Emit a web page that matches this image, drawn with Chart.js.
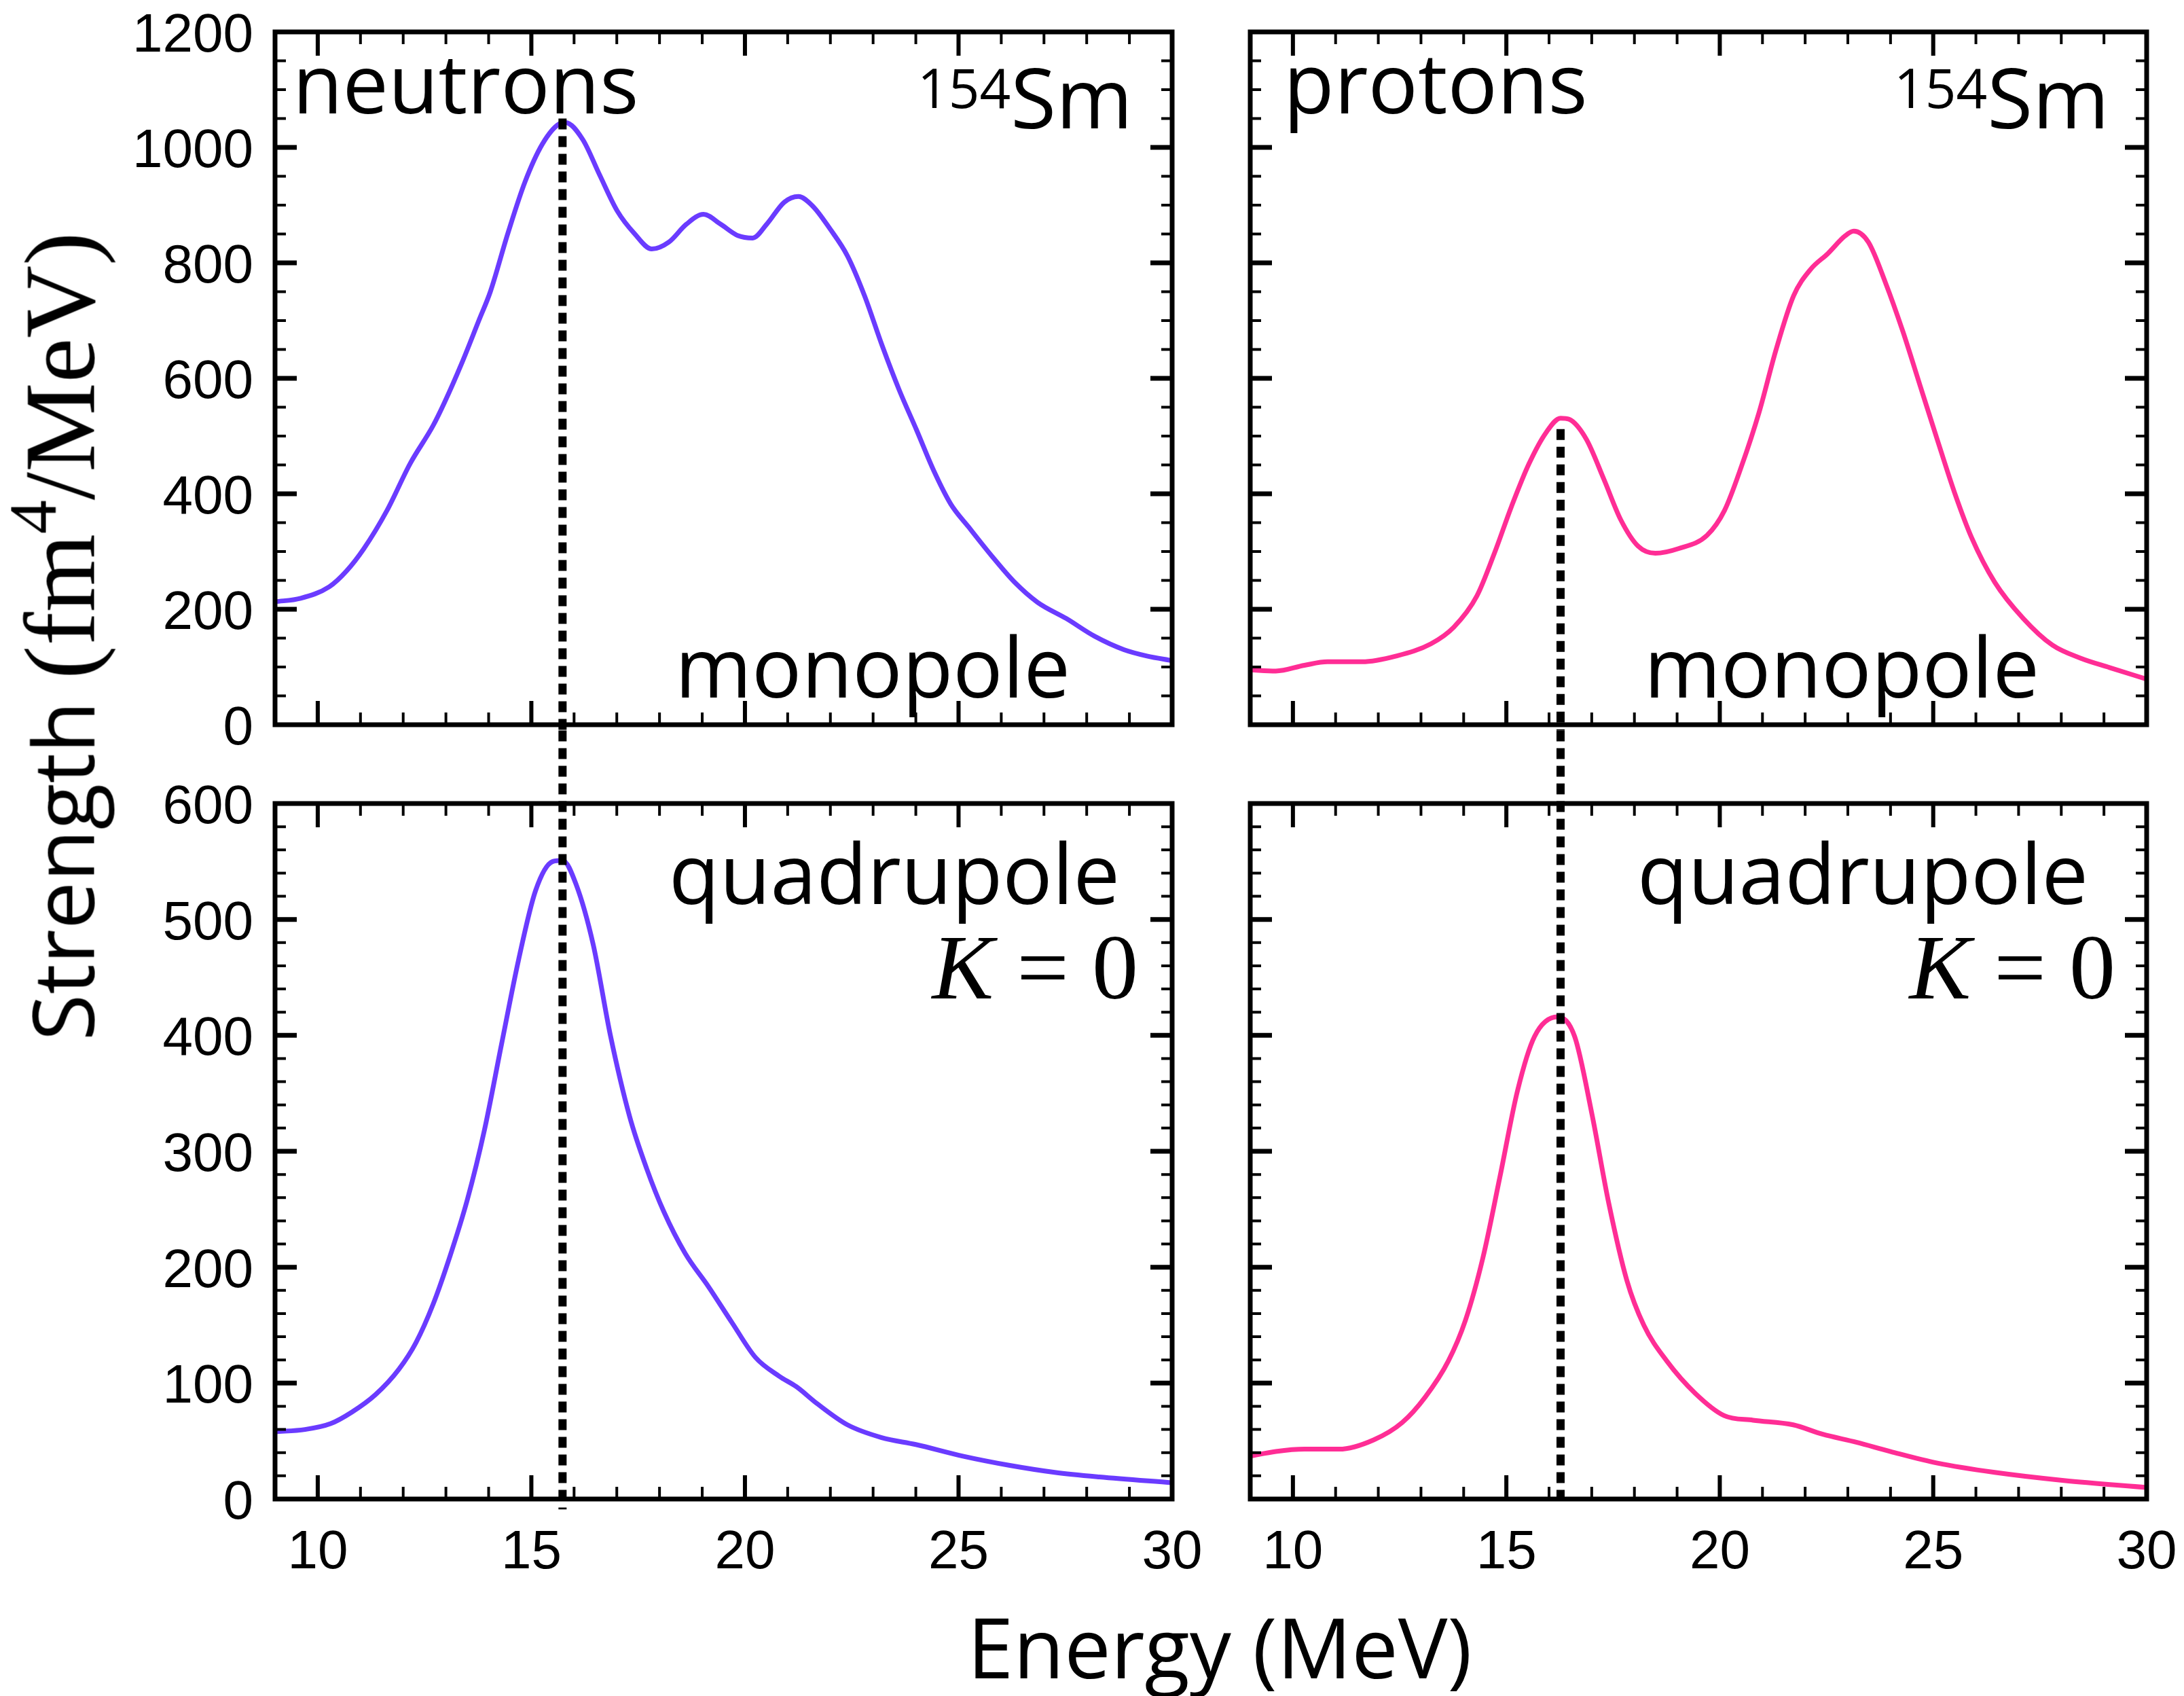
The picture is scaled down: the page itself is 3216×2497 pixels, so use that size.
<!DOCTYPE html>
<html lang="en">
<head>
<meta charset="UTF-8">
<title>154Sm strength</title>
<script src="https://cdn.jsdelivr.net/npm/chart.js"></script>
<style>
  body { margin: 0; background: #fff; width: 3216px; height: 2497px; position: relative; overflow: hidden; }
  canvas { position: absolute; }
  #tituloY {
    position: absolute; left: 97px; top: 937px;
    transform: translate(-50%, -50%) rotate(-90deg);
    white-space: nowrap; font-family: "Open Sans", "Noto Sans", sans-serif;
    font-size: 125px; line-height: 125px; color: #000;
  }
  #tituloY .serif { font-family: "Liberation Serif", "DejaVu Serif", serif; font-size: 148px; }
  #tituloY .exp { font-size: 100px; position: relative; top: -57px; }
  #tituloX {
    position: absolute; left: 1196px; top: 2363px; width: 1200px; text-align: center;
    font-family: "Open Sans", "Noto Sans", sans-serif; font-size: 122px; line-height: 1; color: #000;
  }
</style>
</head>
<body>

<canvas id="cTL" width="1790" height="1100" style="left:0;top:0"></canvas>
<canvas id="cTR" width="1456" height="1100" style="left:1760px;top:0"></canvas>
<canvas id="cBL" width="1790" height="1437" style="left:0;top:1060px"></canvas>
<canvas id="cBR" width="1456" height="1437" style="left:1760px;top:1060px"></canvas>

<div id="tituloY">Strength <span class="serif">(fm<span class="exp">4</span>/MeV)</span></div>
<div id="tituloX">Energy (MeV)</div>

<script>
    // eixos
    const ticksEnergia = [10, 15, 20, 25, 30]
    const ticksMono = [0, 200, 400, 600, 800, 1000, 1200]
    const ticksQuad = [0, 100, 200, 300, 400, 500, 600]

    // energia dos picos (linhas pontilhadas)
    const picoNeutrons = 15.73
    const picoProtons = 16.27

    // monopolo, neutrons
    const eMonoN = [9.0, 9.6, 10.27, 10.67, 11.08, 11.62, 12.16, 12.7, 12.96, 13.37, 13.77, 14.04, 14.45, 14.85, 15.26, 15.66, 15.8, 16.2, 16.6, 17.01, 17.41, 17.82, 18.22, 18.63, 19.03, 19.43, 19.84, 20.18, 20.51, 20.92, 21.25, 21.59, 21.99, 22.4, 22.8, 23.21, 23.61, 24.02, 24.42, 24.82, 25.23, 25.77, 26.31, 26.85, 27.52, 28.19, 28.87, 29.41, 30.0]
    const sMonoN = [213, 219, 239, 266, 305, 371, 452, 518, 557, 626, 700, 750, 851, 940, 1006, 1041, 1043, 1014, 952, 890, 851, 824, 836, 867, 884, 867, 847, 843, 867, 905, 915, 898, 859, 812, 743, 657, 580, 510, 440, 382, 343, 293, 247, 212, 184, 153, 130, 119, 111]

    // monopolo, protons
    const eMonoP = [9.0, 9.6, 10.27, 10.81, 11.62, 12.42, 13.23, 13.77, 14.31, 14.72, 15.12, 15.53, 15.93, 16.27, 16.47, 16.87, 17.28, 17.68, 18.09, 18.49, 19.03, 19.7, 20.11, 20.51, 20.92, 21.32, 21.73, 22.13, 22.53, 22.94, 23.14, 23.48, 23.88, 24.29, 24.69, 25.09, 25.5, 25.9, 26.44, 27.11, 27.79, 28.46, 29.13, 30.0]
    const sMonoP = [95, 93, 103, 109, 109, 119, 140, 169, 223, 297, 378, 452, 506, 531, 529, 495, 426, 355, 309, 297, 305, 328, 371, 448, 541, 650, 743, 789, 816, 847, 855, 836, 766, 681, 588, 495, 402, 324, 247, 184, 138, 115, 99, 79]

    // quadrupolo K=0, neutrons
    const eQuadN = [9.0, 9.7, 10.3, 10.8, 11.35, 11.9, 12.3, 12.7, 13.1, 13.5, 13.9, 14.3, 14.7, 15.1, 15.5, 15.73, 16.05, 16.45, 16.85, 17.3, 17.7, 18.1, 18.6, 19.15, 19.7, 20.25, 20.8, 21.2, 21.7, 22.4, 23.2, 24.0, 25.1, 26.2, 27.25, 28.3, 30.0]
    const sQuadN = [58, 60, 65, 75, 90, 112, 135, 168, 210, 258, 318, 392, 465, 525, 550, 551, 530, 478, 400, 330, 285, 248, 212, 183, 152, 122, 106, 97, 82, 64, 53, 47, 37, 29, 23, 19, 14]

    // quadrupolo K=0, protons
    const eQuadP = [9.0, 9.6, 10.27, 11.08, 11.89, 12.56, 13.1, 13.64, 14.04, 14.45, 14.85, 15.26, 15.66, 16.2, 16.6, 17.0, 17.4, 17.82, 18.22, 18.76, 19.43, 20.1, 20.78, 21.72, 22.4, 23.2, 24.0, 25.1, 26.44, 28.06, 30.0]
    const sQuadP = [37, 41, 43, 43, 51, 66, 88, 119, 154, 208, 278, 352, 399, 416, 399, 333, 255, 189, 150, 119, 91, 72, 68, 64, 56, 49, 41, 31, 23, 16, 10]

    const roxo = '#6a3bff'
    const rosa = '#ff2d95'
    const fonteTexto = '"Open Sans", "Noto Sans", sans-serif'
    const fonteSerif = '"Liberation Serif", "DejaVu Serif", serif'
    const fonteNum = '80px "Liberation Sans", Arial, sans-serif'

    function pares(xs, ys) {
        return xs.map((x, i) => ({ x: x, y: ys[i] }))
    }

    function desenharTexto(ctx, partes, x, y, alinhar) {
        let total = 0
        partes.forEach(p => { ctx.font = p.fonte; p.w = ctx.measureText(p.t).width; total += p.w })
        let cx = alinhar === 'right' ? x - total : x
        partes.forEach(p => {
            ctx.font = p.fonte
            ctx.fillText(p.t, cx, y - (p.sobe || 0))
            cx += p.w
        })
    }

    // moldura com ticks para dentro nos quatro lados, rotulos dos eixos e textos do painel
    function moldura(cfg) {
        return {
            id: 'moldura',
            afterDatasetsDraw(chart) {
                const ctx = chart.ctx
                const a = chart.chartArea
                const x = chart.scales.x
                const y = chart.scales.y
                ctx.save()
                ctx.strokeStyle = '#000'
                for (let v = Math.ceil(x.min); v < x.max; v++) {
                    const px = x.getPixelForValue(v)
                    if (px - a.left < 5) continue
                    const maior = v % 5 === 0
                    const len = maior ? 35 : 18
                    ctx.lineWidth = maior ? 6 : 4
                    ctx.beginPath()
                    ctx.moveTo(px, a.bottom); ctx.lineTo(px, a.bottom - len)
                    ctx.moveTo(px, a.top); ctx.lineTo(px, a.top + len)
                    ctx.stroke()
                }
                for (let v = cfg.passoMenor; v < y.max; v += cfg.passoMenor) {
                    const py = y.getPixelForValue(v)
                    const maior = v % cfg.passoMaior === 0
                    const len = maior ? 32 : 16
                    ctx.lineWidth = maior ? 7 : 4
                    ctx.beginPath()
                    ctx.moveTo(a.left, py); ctx.lineTo(a.left + len, py)
                    ctx.moveTo(a.right, py); ctx.lineTo(a.right - len, py)
                    ctx.stroke()
                }
                ctx.lineWidth = 7
                ctx.strokeRect(a.left, a.top, a.right - a.left, a.bottom - a.top)

                ctx.fillStyle = '#000'
                ctx.textBaseline = 'alphabetic'
                ctx.font = fonteNum
                if (cfg.rotulosY) {
                    ctx.textAlign = 'right'
                    cfg.ticksY.forEach(v => ctx.fillText(String(v), a.left - 32, y.getPixelForValue(v) + 29))
                }
                if (cfg.rotulosX) {
                    ctx.textAlign = 'center'
                    ticksEnergia.forEach(v => ctx.fillText(String(v), x.getPixelForValue(v), a.bottom + 102))
                }
                ctx.textAlign = 'left'
                cfg.textos.forEach(t => {
                    const p = t.pos(a)
                    desenharTexto(ctx, t.partes, p[0], p[1], t.alinhar)
                })
                ctx.restore()
            }
        }
    }

    function criarGrafico(id, cfg) {
        return new Chart(document.getElementById(id), {
            type: 'line',
            data: {
                datasets: [
                    {
                        data: cfg.pontilhado,
                        borderColor: '#000', borderWidth: 12, borderDash: [16, 10],
                        pointRadius: 0, tension: 0, clip: false
                    },
                    {
                        data: cfg.curva,
                        borderColor: cfg.cor, borderWidth: 7,
                        pointRadius: 0, cubicInterpolationMode: 'monotone', fill: false
                    }
                ]
            },
            options: {
                responsive: false,
                animation: false,
                layout: { padding: cfg.padding },
                plugins: { legend: { display: false }, tooltip: { enabled: false } },
                scales: {
                    x: { type: 'linear', min: 9, max: 30, display: false },
                    y: { type: 'linear', min: 0, max: cfg.yMax, display: false }
                }
            },
            plugins: [moldura(cfg)]
        })
    }

    const f = (tam, fam, estilo) => (estilo || '') + ' ' + tam + 'px ' + fam

    criarGrafico('cTL', {
        yMax: 1200, ticksY: ticksMono, rotulosY: true, rotulosX: false,
        passoMenor: 50, passoMaior: 200, cor: roxo,
        padding: { left: 405, top: 47, right: 64, bottom: 33 },
        curva: pares(eMonoN, sMonoN),
        pontilhado: [{ x: picoNeutrons, y: 1050 }, { x: picoNeutrons, y: -10 }],
        textos: [
            { partes: [{ t: 'neutrons', fonte: f(120, fonteTexto) }], alinhar: 'left', pos: a => [a.left + 26, a.top + 120] },
            { partes: [{ t: '154', fonte: f(80, fonteTexto), sobe: 30 }, { t: 'Sm', fonte: f(122, fonteTexto) }], alinhar: 'right', pos: a => [a.right - 58, a.top + 142] },
            { partes: [{ t: 'monopole', fonte: f(122, fonteTexto) }], alinhar: 'right', pos: a => [a.right - 150, a.bottom - 40] }
        ]
    })

    criarGrafico('cTR', {
        yMax: 1200, ticksY: ticksMono, rotulosY: false, rotulosX: false,
        passoMenor: 50, passoMaior: 200, cor: rosa,
        padding: { left: 81, top: 47, right: 55, bottom: 33 },
        curva: pares(eMonoP, sMonoP),
        pontilhado: [{ x: picoProtons, y: 512 }, { x: picoProtons, y: -10 }],
        textos: [
            { partes: [{ t: 'protons', fonte: f(122, fonteTexto) }], alinhar: 'left', pos: a => [a.left + 49, a.top + 120] },
            { partes: [{ t: '154', fonte: f(80, fonteTexto), sobe: 30 }, { t: 'Sm', fonte: f(122, fonteTexto) }], alinhar: 'right', pos: a => [a.right - 55, a.top + 142] },
            { partes: [{ t: 'monopole', fonte: f(122, fonteTexto) }], alinhar: 'right', pos: a => [a.right - 158, a.bottom - 40] }
        ]
    })

    criarGrafico('cBL', {
        yMax: 600, ticksY: ticksQuad, rotulosY: true, rotulosX: true,
        passoMenor: 20, passoMaior: 100, cor: roxo,
        padding: { left: 405, top: 123, right: 64, bottom: 290 },
        curva: pares(eQuadN, sQuadN),
        pontilhado: [{ x: picoNeutrons, y: 663 }, { x: picoNeutrons, y: -9 }],
        textos: [
            { partes: [{ t: 'quadrupole', fonte: f(122, fonteTexto) }], alinhar: 'right', pos: a => [a.right - 77, a.top + 148] },
            { partes: [{ t: 'K', fonte: f(136, fonteSerif, 'italic') }, { t: ' = 0', fonte: f(136, fonteSerif) }], alinhar: 'right', pos: a => [a.right - 50, a.top + 287] }
        ]
    })

    criarGrafico('cBR', {
        yMax: 600, ticksY: ticksQuad, rotulosY: false, rotulosX: true,
        passoMenor: 20, passoMaior: 100, cor: rosa,
        padding: { left: 81, top: 123, right: 55, bottom: 290 },
        curva: pares(eQuadP, sQuadP),
        pontilhado: [{ x: picoProtons, y: 663 }, { x: picoProtons, y: -5 }],
        textos: [
            { partes: [{ t: 'quadrupole', fonte: f(122, fonteTexto) }], alinhar: 'right', pos: a => [a.right - 86, a.top + 148] },
            { partes: [{ t: 'K', fonte: f(136, fonteSerif, 'italic') }, { t: ' = 0', fonte: f(136, fonteSerif) }], alinhar: 'right', pos: a => [a.right - 46, a.top + 287] }
        ]
    })
</script>
</body>
</html>
